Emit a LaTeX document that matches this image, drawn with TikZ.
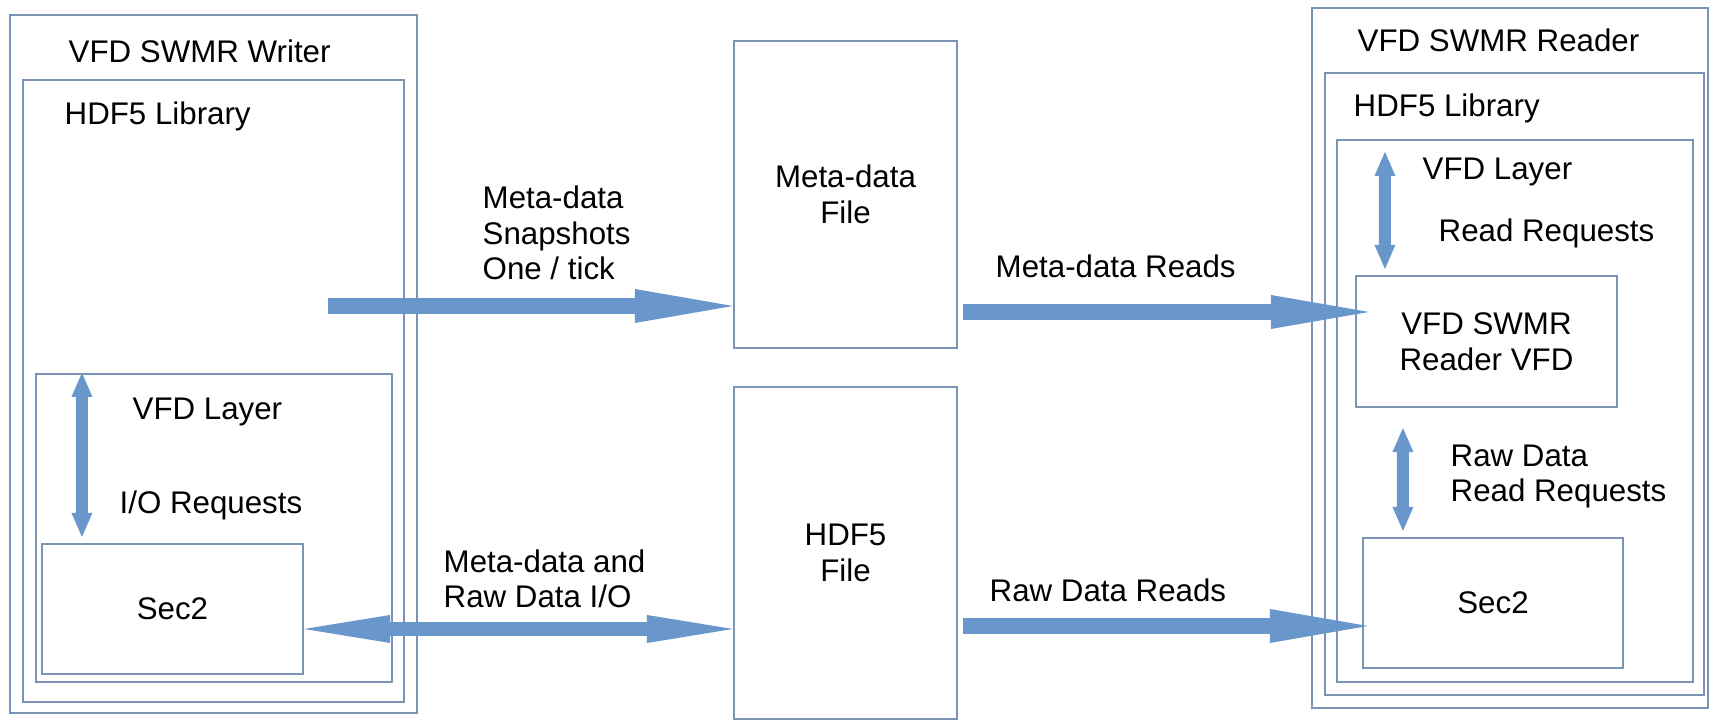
\documentclass[tikz,border=0pt]{standalone}
\usepackage{fontspec}
\setmainfont{Liberation Sans}
\usetikzlibrary{positioning, calc, arrows.meta}
\definecolor{boxline}{HTML}{7A93B6}
\definecolor{flow}{HTML}{6A97CB}

\begin{document}
\begin{tikzpicture}[
        box/.style={
                draw=boxline,
                line width=0.6pt,
                inner sep=0pt,
        },
        txt/.style={inner sep=0pt, anchor=base west, align=left},
        wide/.style={draw=flow, line width=1.6mm,
                -{Triangle[length=9.8mm, width=3.4mm, line width=0pt]}},
        widetwo/.style={draw=flow, line width=1.4mm,
                {Triangle[length=8.6mm, width=2.8mm, line width=0pt]}-{Triangle[length=8.6mm, width=2.8mm, line width=0pt]}},
        updown/.style={draw=flow, line width=1.2mm,
                {Triangle[length=2.4mm, width=2.1mm, line width=0pt]}-{Triangle[length=2.4mm, width=2.1mm, line width=0pt]}},
        font=\fontsize{8.9}{10.2}\selectfont,
    ]
            \useasboundingbox (0,0) rectangle (17.09,7.2);

            % writer side
            \node[box, minimum width=4.07cm, minimum height=6.98cm] (wouter) at (2.135,3.56) {};
            \node[box, minimum width=3.81cm, minimum height=6.22cm] (wlib) at (2.135,3.29) {};
            \node[box, minimum width=3.56cm, minimum height=3.08cm] (wlayer) at (2.14,1.92) {};
            \node[box, minimum width=2.61cm, minimum height=1.30cm] (wsec) at (1.725,1.11) {Sec2};
            \node[txt] (wtitle) at (0.68,6.57) {VFD SWMR Writer};
            \node[txt] (wlibtitle) at (0.64,5.95) {HDF5 Library};
            \node[txt] (wlayertitle) at (1.32,3.00) {VFD Layer};
            \node[txt] (wreq) at (1.19,2.06) {I/O Requests};

            % the two files
            \node[box, minimum width=2.23cm, minimum height=3.07cm, align=center] (mfile) at (8.455,5.255) {Meta-data\\File};
            \node[box, minimum width=2.23cm, minimum height=3.32cm, align=center] (hfile) at (8.455,1.67) {HDF5\\File};

            % reader side
            \node[box, minimum width=3.96cm, minimum height=7.00cm] (router) at (15.10,3.62) {};
            \node[box, minimum width=3.79cm, minimum height=6.22cm] (rlib) at (15.145,3.36) {};
            \node[box, minimum width=3.56cm, minimum height=5.42cm] (rlayer) at (15.15,3.09) {};
            \node[box, minimum width=2.61cm, minimum height=1.31cm, align=center] (rvfd) at (14.865,3.785) {VFD SWMR\\Reader VFD};
            \node[box, minimum width=2.60cm, minimum height=1.30cm] (rsec) at (14.93,1.17) {Sec2};
            \node[txt] (rtitle) at (13.57,6.68) {VFD SWMR Reader};
            \node[txt] (rlibtitle) at (13.53,6.03) {HDF5 Library};
            \node[txt] (rlayertitle) at (14.22,5.40) {VFD Layer};
            \node[txt] (rreq) at (14.38,4.78) {Read Requests};
            \node[txt] (rrawreq) at (14.50,2.18) {Raw Data\\Read Requests};

            % labels on the flows (base = last line)
            \node[txt] (snaplabel) at (4.82,4.40) {Meta-data\\Snapshots\\One / tick};
            \node[txt] (iolabel) at (4.43,1.12) {Meta-data and\\Raw Data I/O};
            \node[txt] (mreadlabel) at (9.95,4.42) {Meta-data Reads};
            \node[txt] (rreadlabel) at (9.89,1.18) {Raw Data Reads};

            % flows
            \coordinate (snap) at (3.28,4.14);
            \draw[wide] (snap) -- (snap -| mfile.west);
            \draw[widetwo] ([yshift=-2mm]wsec.east) -- ([yshift=-2mm]wsec.east -| hfile.west);
            \draw[wide] ($(mfile.east |- rvfd.west)+(0.05,0.295)$) -- ($(rvfd.west)+(0.14,0.295)$);
            \draw[wide] ($(hfile.east |- rsec.west)+(0.05,-0.23)$) -- ($(rsec.west)+(0.06,-0.23)$);
            \draw[updown] ($(wlayer.north west)+(0.47,0)$) -- ($(wsec.north west)+(0.41,0.06)$);
            \draw[updown] ($(rlayer.north west)+(0.49,-0.13)$) -- ($(rvfd.north west)+(0.30,0.06)$);
            \draw[updown] ($(rvfd.south west)+(0.48,-0.20)$) -- ($(rsec.north west)+(0.41,0.06)$);
        \end{tikzpicture}
\end{document}
